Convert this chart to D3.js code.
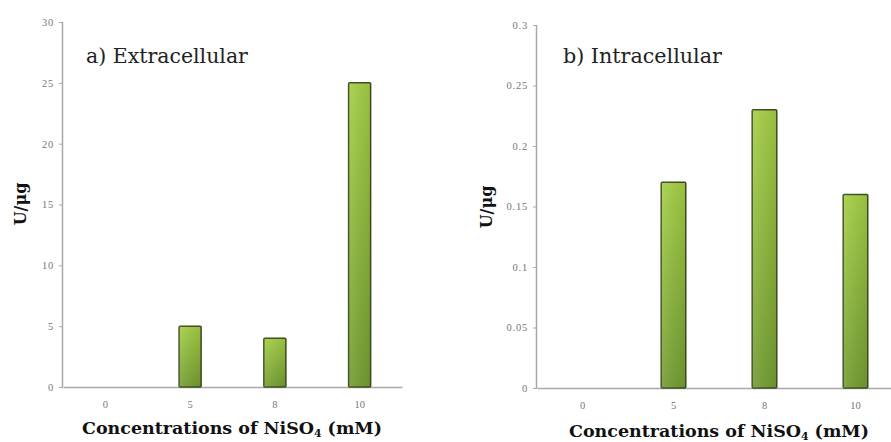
<!DOCTYPE html>
<html><head><meta charset="utf-8">
<script src="https://cdn.jsdelivr.net/npm/d3@7"></script>
<style>body{margin:0;background:#fff}svg{display:block}</style>
</head><body>
<svg id="c" width="891" height="442"></svg>
<script>
const categories = ["0", "5", "8", "10"];
const extracellular = [0, 5, 4, 25];
const intracellular = [0, 0.17, 0.23, 0.16];
const ticksA = [0, 5, 10, 15, 20, 25, 30];
const ticksB = [0, 0.05, 0.1, 0.15, 0.2, 0.25, 0.3];
const titles = ["a) Extracellular", "b) Intracellular"];
const yLabel = "U/μg";

const svg = d3.select("#c");
const defs = svg.append("defs");
const g1 = defs.append("linearGradient").attr("id","barV").attr("x1",0).attr("y1",0).attr("x2",0).attr("y2",1);
g1.append("stop").attr("offset","0%").attr("stop-color","#a4cf44");
g1.append("stop").attr("offset","100%").attr("stop-color","#739d31");
const g2 = defs.append("linearGradient").attr("id","barH").attr("x1",0).attr("y1",0).attr("x2",1).attr("y2",0);
g2.append("stop").attr("offset","0%").attr("stop-color","#ffffff").attr("stop-opacity",0.10);
g2.append("stop").attr("offset","100%").attr("stop-color","#000000").attr("stop-opacity",0.08);

const serif = "'DejaVu Serif','Liberation Serif',serif";
const tickFont = "'Liberation Serif',serif";

function fit(sel, target, maxSize) {
  const node = sel.node();
  const w = node.getComputedTextLength();
  const fs = parseFloat(sel.style("font-size"));
  const nfs = Math.min(maxSize, fs * target / w);
  sel.style("font-size", nfs + "px");
}

function panel(cfg) {
  const x = d3.scaleBand().domain(categories).range([cfg.x0, cfg.x1]).paddingInner(cfg.pad).paddingOuter(cfg.pad/2);
  const y = d3.scaleLinear().domain([0, cfg.max]).range([cfg.y0, cfg.yTop]);
  const g = svg.append("g");
  const ya = g.append("g").attr("transform", `translate(${cfg.x0},0)`)
    .call(d3.axisLeft(y).tickValues(cfg.ticks).tickSize(4).tickPadding(5).tickFormat(d => String(+d.toFixed(2))));
  ya.select(".domain").attr("stroke","#a8a8a8").attr("stroke-width",1.5).attr("d",`M-0.5,${cfg.yTop}V${cfg.y0}`);
  ya.selectAll(".tick line").attr("stroke","#a8a8a8");
  ya.selectAll(".tick text").attr("fill","#777").style("font-family",tickFont).style("font-size","10.5px").style("letter-spacing","0.8px");
  const xa = g.append("g").attr("transform", `translate(0,${cfg.y0})`)
    .call(d3.axisBottom(x).tickSize(0).tickPadding(14));
  xa.select(".domain").attr("stroke","#a8a8a8").attr("stroke-width",1.5);
  xa.selectAll(".tick text").attr("fill","#777").style("font-family",tickFont).style("font-size","10.5px");
  const bars = g.append("g");
  cfg.data.forEach((v, i) => {
    if (v <= 0) return;
    const bx = x(categories[i]), bw = x.bandwidth(), by = y(v), bh = y(0) - y(v);
    bars.append("rect").attr("x", bx).attr("y", by).attr("width", bw).attr("height", bh)
      .attr("fill","url(#barV)").attr("stroke","#3f4d20").attr("stroke-width",1.5).attr("rx",1);
    bars.append("rect").attr("x", bx).attr("y", by).attr("width", bw).attr("height", bh)
      .attr("fill","url(#barH)");
  });
  const t = g.append("text").attr("x", cfg.tx).attr("y", 63).text(cfg.title)
    .style("font-family",serif).style("font-size","19px").attr("fill","#222");
  fit(t, cfg.tw, 21);
  g.append("text").attr("transform",`translate(${cfg.lx},${cfg.ly}) rotate(-90)`).attr("text-anchor","middle")
    .text(yLabel).style("font-family",serif).style("font-size","16px").style("font-weight","bold").attr("fill","#111");
  const xl = g.append("text").attr("x", cfg.xlx).attr("y", cfg.xly).attr("text-anchor","middle")
    .style("font-family",serif).style("font-size","17px").style("font-weight","bold").attr("fill","#111");
  xl.append("tspan").text("Concentrations of NiSO");
  xl.append("tspan").text("4").attr("font-size","0.62em").attr("dy",3);
  xl.append("tspan").text(" (mM)").attr("dy",-3);
  fit(xl, 300, 18);
}

panel({x0:63, x1:402, y0:387, yTop:22, max:30, ticks:ticksA, data:extracellular, pad:0.74,
  title:titles[0], tx:86, tw:162, lx:26, ly:204, xlx:232, xly:434});
panel({x0:537, x1:901, y0:388, yTop:25, max:0.3, ticks:ticksB, data:intracellular, pad:0.73,
  title:titles[1], tx:563, tw:159, lx:492, ly:207, xlx:719, xly:437});
</script>
</body></html>
